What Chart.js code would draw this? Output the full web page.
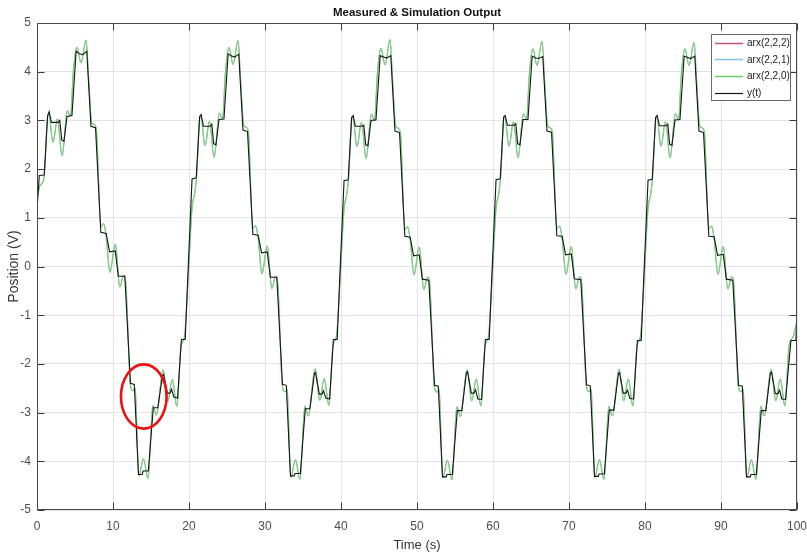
<!DOCTYPE html>
<html><head><meta charset="utf-8">
<script src="https://cdn.jsdelivr.net/npm/chart.js@4"></script>
<style>html,body{margin:0;padding:0;background:#fff;overflow:hidden}</style>
</head><body>
<canvas id="c" width="807" height="554"></canvas>
<script>
// ---------- data ----------
const chartTitle = 'Measured & Simulation Output';
const xTitle = 'Time (s)';
const yTitle = 'Position (V)';
const xTickValues = [0, 10, 20, 30, 40, 50, 60, 70, 80, 90, 100];
const yTickValues = [-5, -4, -3, -2, -1, 0, 1, 2, 3, 4, 5];
const seriesNames = ['arx(2,2,2)', 'arx(2,2,1)', 'arx(2,2,0)', 'y(t)'];
const seriesColors = ['#c8506e', '#7cc3ea', '#66d266', '#151515'];
// red ellipse annotation: centre (time, position) and half-sizes (s, V)
const markCentre = [14.05, -2.67];
const markRadius = [3.0, 0.66];

// measured output y(t)
const measTime = [
  0, 0.3, 0.95, 1.4, 1.6, 1.9, 2.8, 3.0, 3.25, 3.55, 3.95, 4.6, 5.15, 5.6, 6.0, 6.55, 7.1, 7.7, 8.4, 9.1, 9.55, 10.3, 10.7, 11.55, 12.3, 12.8, 13.35, 13.85, 13.95, 14.65, 15.3, 15.9, 16.5, 16.65, 17.15, 17.5, 17.7, 18.0, 18.5, 19.0, 19.5, 19.9,
  20.4, 20.95, 21.4, 21.6, 21.9, 22.8, 23.0, 23.25, 23.55, 23.95, 24.6, 25.15, 25.6, 26.0, 26.55, 27.1, 27.7, 28.4, 29.1, 29.55, 30.3, 30.7, 31.55, 32.3, 32.8, 33.35, 33.85, 33.95, 34.65, 35.3, 35.9, 36.5, 36.65, 37.15, 37.5, 37.7, 38.0, 38.5, 39.0, 39.5, 39.9,
  40.4, 40.95, 41.4, 41.6, 41.9, 42.8, 43.0, 43.25, 43.55, 43.95, 44.6, 45.15, 45.6, 46.0, 46.55, 47.1, 47.7, 48.4, 49.1, 49.55, 50.3, 50.7, 51.55, 52.3, 52.8, 53.35, 53.85, 53.95, 54.65, 55.3, 55.9, 56.5, 56.65, 57.15, 57.5, 57.7, 58.0, 58.5, 59.0, 59.5, 59.9,
  60.4, 60.95, 61.4, 61.6, 61.9, 62.8, 63.0, 63.25, 63.55, 63.95, 64.6, 65.15, 65.6, 66.0, 66.55, 67.1, 67.7, 68.4, 69.1, 69.55, 70.3, 70.7, 71.55, 72.3, 72.8, 73.35, 73.85, 73.95, 74.65, 75.3, 75.9, 76.5, 76.65, 77.15, 77.5, 77.7, 78.0, 78.5, 79.0, 79.5, 79.9,
  80.4, 80.95, 81.4, 81.6, 81.9, 82.8, 83.0, 83.25, 83.55, 83.95, 84.6, 85.15, 85.6, 86.0, 86.55, 87.1, 87.7, 88.4, 89.1, 89.55, 90.3, 90.7, 91.55, 92.3, 92.8, 93.35, 93.85, 93.95, 94.65, 95.3, 95.9, 96.5, 96.65, 97.15, 97.5, 97.7, 98.0, 98.5, 99.2, 99.85, 100
];
const measPos = [
  1.15, 1.87, 1.88, 3.1, 3.18, 2.96, 2.96, 3.0, 2.6, 2.57, 3.08, 3.1, 4.42, 4.37, 4.35, 4.42, 2.88, 2.85, 0.7, 0.68, 0.3, 0.32, -0.2, -0.2, -2.4, -2.42, -4.27, -4.27, -4.2, -4.2, -2.9, -2.9, -2.25, -2.22, -2.6, -2.6, -2.52, -2.68, -2.7, -1.5, -1.5, 0.0,
  1.8, 1.82, 3.08, 3.12, 2.88, 2.88, 2.92, 2.52, 2.5, 3.02, 3.03, 4.37, 4.32, 4.3, 4.36, 2.8, 2.77, 0.66, 0.64, 0.28, 0.3, -0.22, -0.22, -2.42, -2.44, -4.3, -4.3, -4.25, -4.25, -2.92, -2.92, -2.2, -2.18, -2.62, -2.62, -2.55, -2.7, -2.72, -1.5, -1.5, 0.0,
  1.76, 1.78, 3.06, 3.1, 2.88, 2.88, 2.9, 2.5, 2.48, 3.0, 3.01, 4.33, 4.3, 4.28, 4.33, 2.78, 2.75, 0.62, 0.6, 0.22, 0.24, -0.26, -0.28, -2.44, -2.46, -4.32, -4.32, -4.27, -4.27, -2.96, -2.96, -2.18, -2.16, -2.6, -2.6, -2.53, -2.72, -2.73, -1.5, -1.5, 0.0,
  1.78, 1.8, 3.07, 3.1, 2.9, 2.9, 2.93, 2.52, 2.5, 3.02, 3.02, 4.32, 4.28, 4.27, 4.31, 2.78, 2.76, 0.63, 0.62, 0.24, 0.26, -0.25, -0.27, -2.43, -2.45, -4.31, -4.31, -4.26, -4.26, -2.95, -2.95, -2.2, -2.18, -2.6, -2.6, -2.54, -2.71, -2.72, -1.52, -1.52, 0.0,
  1.77, 1.79, 3.06, 3.1, 2.89, 2.89, 2.92, 2.51, 2.49, 3.01, 3.02, 4.32, 4.29, 4.27, 4.32, 2.78, 2.75, 0.62, 0.61, 0.23, 0.25, -0.26, -0.28, -2.44, -2.46, -4.32, -4.32, -4.27, -4.27, -2.96, -2.96, -2.19, -2.17, -2.61, -2.61, -2.54, -2.72, -2.73, -1.52, -1.52, -1.0
];

// simulated output arx(2,2,0)
const simTime = [
  0, 0.45, 0.75, 1.0, 1.35, 1.55, 2.1, 2.7, 3.3, 4.0, 4.4, 4.8, 5.25, 5.8, 6.45, 6.8, 7.2, 7.5, 7.8, 8.4, 8.75, 9.1, 9.6, 10.3, 10.9, 11.4, 11.65, 12.3, 12.6, 12.9, 13.4, 14.0, 14.6, 15.25, 15.7, 16.6, 17.2, 17.8, 18.4, 18.95, 19.4, 19.9,
  20.4, 20.75, 21.0, 21.4, 21.55, 22.1, 22.7, 23.3, 24.0, 24.4, 24.8, 25.25, 25.8, 26.45, 26.8, 27.2, 27.5, 27.8, 28.4, 28.75, 29.1, 29.6, 30.3, 30.9, 31.4, 31.65, 32.3, 32.6, 32.9, 33.4, 34.0, 34.6, 35.25, 35.7, 36.6, 37.2, 37.8, 38.4, 38.95, 39.4, 39.9,
  40.4, 40.75, 41.0, 41.4, 41.55, 42.1, 42.7, 43.3, 44.0, 44.4, 44.8, 45.25, 45.8, 46.45, 46.8, 47.2, 47.5, 47.8, 48.4, 48.75, 49.1, 49.6, 50.3, 50.9, 51.4, 51.65, 52.3, 52.6, 52.9, 53.4, 54.0, 54.6, 55.25, 55.7, 56.6, 57.2, 57.8, 58.4, 58.95, 59.4, 59.9,
  60.4, 60.75, 61.0, 61.4, 61.55, 62.1, 62.7, 63.3, 64.0, 64.4, 64.8, 65.25, 65.8, 66.45, 66.8, 67.2, 67.5, 67.8, 68.4, 68.75, 69.1, 69.6, 70.3, 70.9, 71.4, 71.65, 72.3, 72.6, 72.9, 73.4, 74.0, 74.6, 75.25, 75.7, 76.6, 77.2, 77.8, 78.4, 78.95, 79.4, 79.9,
  80.4, 80.75, 81.0, 81.4, 81.55, 82.1, 82.7, 83.3, 84.0, 84.4, 84.8, 85.25, 85.8, 86.45, 86.8, 87.2, 87.5, 87.8, 88.4, 88.75, 89.1, 89.6, 90.3, 90.9, 91.4, 91.65, 92.3, 92.6, 92.9, 93.4, 94.0, 94.6, 95.25, 95.7, 96.6, 97.2, 97.8, 98.4, 98.95, 99.5, 100
];
const simPos = [
  1.4, 1.68, 1.72, 1.95, 3.0, 3.13, 2.55, 3.03, 2.27, 3.2, 3.08, 4.05, 4.5, 4.18, 4.65, 3.85, 2.95, 2.92, 2.82, 0.82, 0.88, 0.62, -0.12, 0.46, -0.42, -0.18, -0.28, -2.45, -2.55, -2.5, -4.3, -3.95, -4.35, -2.85, -3.05, -2.12, -2.77, -2.32, -2.87, -1.64, -1.45, -0.2,
  1.2, 1.5, 1.85, 3.03, 3.1, 2.48, 2.98, 2.24, 3.15, 3.02, 4.0, 4.5, 4.15, 4.64, 3.8, 2.9, 2.86, 2.78, 0.78, 0.84, 0.58, -0.15, 0.42, -0.45, -0.2, -0.3, -2.47, -2.57, -2.52, -4.33, -3.97, -4.37, -2.87, -3.07, -2.1, -2.75, -2.3, -2.85, -1.62, -1.43, -0.2,
  1.18, 1.48, 1.82, 3.02, 3.08, 2.46, 2.96, 2.22, 3.13, 3.0, 3.98, 4.48, 4.14, 4.66, 3.78, 2.88, 2.84, 2.76, 0.76, 0.82, 0.56, -0.17, 0.4, -0.47, -0.22, -0.32, -2.48, -2.58, -2.53, -4.34, -3.98, -4.38, -2.88, -3.08, -2.12, -2.76, -2.31, -2.86, -1.63, -1.44, -0.2,
  1.19, 1.49, 1.83, 3.02, 3.09, 2.47, 2.97, 2.23, 3.14, 3.01, 3.99, 4.47, 4.13, 4.62, 3.79, 2.89, 2.85, 2.77, 0.77, 0.83, 0.57, -0.16, 0.41, -0.46, -0.21, -0.31, -2.47, -2.57, -2.52, -4.33, -3.97, -4.37, -2.87, -3.07, -2.11, -2.76, -2.31, -2.86, -1.63, -1.44, -0.2,
  1.19, 1.49, 1.83, 3.02, 3.09, 2.47, 2.97, 2.23, 3.14, 3.01, 3.99, 4.47, 4.13, 4.6, 3.79, 2.89, 2.85, 2.77, 0.77, 0.83, 0.57, -0.16, 0.41, -0.46, -0.21, -0.31, -2.47, -2.57, -2.52, -4.33, -3.97, -4.37, -2.87, -3.07, -2.11, -2.76, -2.31, -2.86, -1.63, -1.44, -1.1
];
// arx(2,2,2) and arx(2,2,1) coincide with arx(2,2,0) at this scale (hidden beneath it)
const arx222Time = simTime, arx222Pos = simPos;
const arx221Time = simTime, arx221Pos = simPos;

// ---------- chart ----------
const FONT = '"Liberation Sans", Arial, Helvetica, sans-serif';
const pts = (t, v) => t.map((x, i) => ({ x: x, y: v[i] }));

const boxPlugin = {
  id: 'matlabBox',
  afterDatasetsDraw(chart) {
    const { ctx, chartArea: a, scales } = chart;
    const L = Math.round(a.left) + 0.5, R = Math.round(a.right) - 0.5;
    const T = Math.round(a.top) + 0.5, B = Math.round(a.bottom) - 0.5;
    ctx.save();
    ctx.strokeStyle = '#3a3a3a';
    ctx.lineWidth = 1;
    ctx.beginPath();
    xTickValues.forEach(v => {
      const p = Math.round(scales.x.getPixelForValue(v)) + 0.5;
      ctx.moveTo(p, B); ctx.lineTo(p, B - 7);
      ctx.moveTo(p, T); ctx.lineTo(p, T + 7);
    });
    yTickValues.forEach(v => {
      const p = Math.round(scales.y.getPixelForValue(v)) + 0.5;
      ctx.moveTo(L, p); ctx.lineTo(L + 7, p);
      ctx.moveTo(R, p); ctx.lineTo(R - 7, p);
    });
    ctx.stroke();
    ctx.strokeStyle = '#4a4a4a';
    ctx.strokeRect(L, T, R - L, B - T);
    ctx.restore();
  },
  afterDraw(chart) {
    const { ctx, scales, chartArea: a } = chart;
    // title, centred over the axes box
    ctx.save();
    ctx.font = 'bold 11.5px ' + FONT;
    ctx.fillStyle = '#111';
    ctx.textAlign = 'center';
    ctx.textBaseline = 'middle';
    ctx.fillText(chartTitle, (a.left + a.right) / 2, 13);
    ctx.restore();
    // red ellipse annotation
    const cx = scales.x.getPixelForValue(markCentre[0]);
    const cy = scales.y.getPixelForValue(markCentre[1]);
    const rx = Math.abs(scales.x.getPixelForValue(markCentre[0] + markRadius[0]) - cx);
    const ry = Math.abs(scales.y.getPixelForValue(markCentre[1] + markRadius[1]) - cy);
    ctx.save();
    ctx.strokeStyle = '#ee1111';
    ctx.lineWidth = 2.6;
    ctx.beginPath();
    ctx.ellipse(cx, cy, rx, ry, 0, 0, Math.PI * 2);
    ctx.stroke();
    ctx.restore();
    // legend box
    const bx = 711.5, by = 34.5, bw = 79, bh = 66;
    ctx.save();
    ctx.fillStyle = '#fff';
    ctx.fillRect(bx, by, bw, bh);
    ctx.strokeStyle = '#6a6a6a';
    ctx.lineWidth = 1;
    ctx.strokeRect(bx, by, bw, bh);
    ctx.font = '10px ' + FONT;
    ctx.textBaseline = 'middle';
    ctx.textAlign = 'left';
    seriesNames.forEach((name, i) => {
      const y = 42.5 + i * 16.8;
      ctx.strokeStyle = seriesColors[i];
      ctx.lineWidth = i === 3 ? 1.2 : 1.5;
      ctx.beginPath(); ctx.moveTo(715, Math.round(y) + 0.5); ctx.lineTo(743, Math.round(y) + 0.5); ctx.stroke();
      ctx.fillStyle = '#1a1a1a';
      ctx.fillText(name, 747, y + 0.5);
    });
    ctx.restore();
  }
};

new Chart(document.getElementById('c'), {
  type: 'line',
  data: {
    datasets: [
      { label: seriesNames[3], data: pts(measTime, measPos), borderColor: seriesColors[3], borderWidth: 1.1, order: 0 },
      { label: seriesNames[2], data: pts(simTime, simPos), borderColor: '#74d474', borderWidth: 1.2, order: 1, cubicInterpolationMode: 'monotone' },
      { label: seriesNames[1], data: pts(arx221Time, arx221Pos), borderColor: seriesColors[1], borderWidth: 0.5, order: 2, cubicInterpolationMode: 'monotone' },
      { label: seriesNames[0], data: pts(arx222Time, arx222Pos), borderColor: seriesColors[0], borderWidth: 0.5, order: 3, cubicInterpolationMode: 'monotone' }
    ]
  },
  options: {
    responsive: false,
    animation: false,
    devicePixelRatio: 1,
    parsing: false,
    elements: { point: { radius: 0 }, line: { tension: 0, fill: false } },
    layout: { padding: { left: 0, right: 0, top: 23, bottom: 0 } },
    plugins: {
      legend: { display: false },
      tooltip: { enabled: false },
      title: { display: false }
    },
    scales: {
      x: {
        type: 'linear', min: 0, max: 100,
        afterBuildTicks: s => { s.ticks = xTickValues.map(v => ({ value: v })); },
        afterFit: s => { s.height = 44; s.paddingRight = 10; },
        ticks: { font: { family: FONT, size: 12 }, color: '#4d4d4d', padding: 9, maxRotation: 0, autoSkip: false },
        grid: { color: '#e4e4e4', drawTicks: false, lineWidth: 1 },
        border: { display: false },
        title: { display: true, text: xTitle, color: '#333', font: { family: FONT, size: 13 }, padding: { top: 0, bottom: 1 } }
      },
      y: {
        type: 'linear', min: -5, max: 5,
        afterBuildTicks: s => { s.ticks = yTickValues.map(v => ({ value: v })); },
        afterFit: s => { s.width = 37; },
        ticks: { font: { family: FONT, size: 12 }, color: '#4d4d4d', padding: 6, autoSkip: false },
        grid: { color: '#e4e4e4', drawTicks: false, lineWidth: 1 },
        border: { display: false },
        title: { display: true, text: yTitle, color: '#333', font: { family: FONT, size: 14 }, padding: { top: 6, bottom: 0 } }
      }
    }
  },
  plugins: [boxPlugin]
});
</script>
</body></html>
